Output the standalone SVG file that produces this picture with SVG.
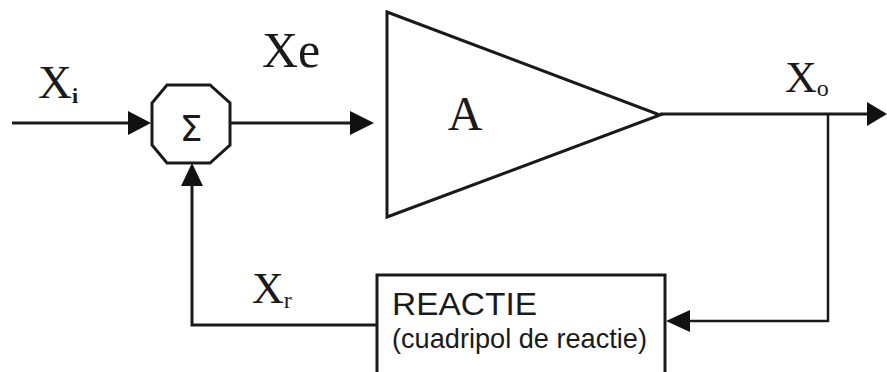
<svg xmlns="http://www.w3.org/2000/svg" width="887" height="372" viewBox="0 0 887 372">
<defs>
<style>
.ln{fill:none;stroke:#1a1a1a;stroke-width:3}
.shape{fill:#fff;stroke:#1a1a1a;stroke-width:3}
.serif{font-family:"Liberation Serif","Times New Roman",serif;fill:#1a1a1a}
.sans{font-family:"Liberation Sans",Arial,sans-serif;fill:#1a1a1a}
.sig{font-family:"DejaVu Sans",sans-serif;fill:#1a1a1a}
.ah{fill:#111;stroke:none}
</style>
</defs>
<rect width="887" height="372" fill="#fff"/>
<g id="connectors">
<path class="ln" d="M12,123 H130"/>
<polygon class="ah" points="151,123 128,111 128,135"/>
<path class="ln" d="M230,123 H352"/>
<polygon class="ah" points="374,123 350,111 350,135"/>
<path class="ln" d="M660,114 H870"/>
<polygon class="ah" points="887,114 867,102 867,126"/>
<path class="ln" style="stroke-width:2.5" d="M828,114 V321 H688"/>
<polygon class="ah" points="666,321 690,310 690,332"/>
<path class="ln" d="M377,325 H192 V183"/>
<polygon class="ah" points="192,163 181,186 203,186"/>
</g>
<g id="sum">
<polygon class="shape" points="167,85 210,85 230,103 230,145 210,163 167,163 152,145 152,103"/>
<text class="sig" x="191" y="141" font-size="36" text-anchor="middle">Σ</text>
</g>
<g id="amplifier">
<polygon class="shape" points="387,12 660,115 387,217"/>
<text class="serif" x="465" y="130" font-size="48" text-anchor="middle">A</text>
</g>
<g id="reactie">
<rect class="shape" x="377" y="275" width="288" height="110"/>
<text class="sans" x="392" y="315" font-size="32" textLength="145" lengthAdjust="spacingAndGlyphs">REACTIE</text>
<text class="sans" x="392" y="348" font-size="28" textLength="255" lengthAdjust="spacingAndGlyphs">(cuadripol de reactie)</text>
</g>
<g id="labels">
<text class="serif" x="38" y="98" font-size="47">X<tspan font-size="22" font-weight="bold" dy="5">i</tspan></text>
<text class="serif" x="262" y="67" font-size="50">Xe</text>
<text class="serif" x="785" y="92" font-size="44">X<tspan font-size="24" dy="4">o</tspan></text>
<text class="serif" x="252" y="303" font-size="44">X<tspan font-size="24" dy="5">r</tspan></text>
</g>
</svg>
